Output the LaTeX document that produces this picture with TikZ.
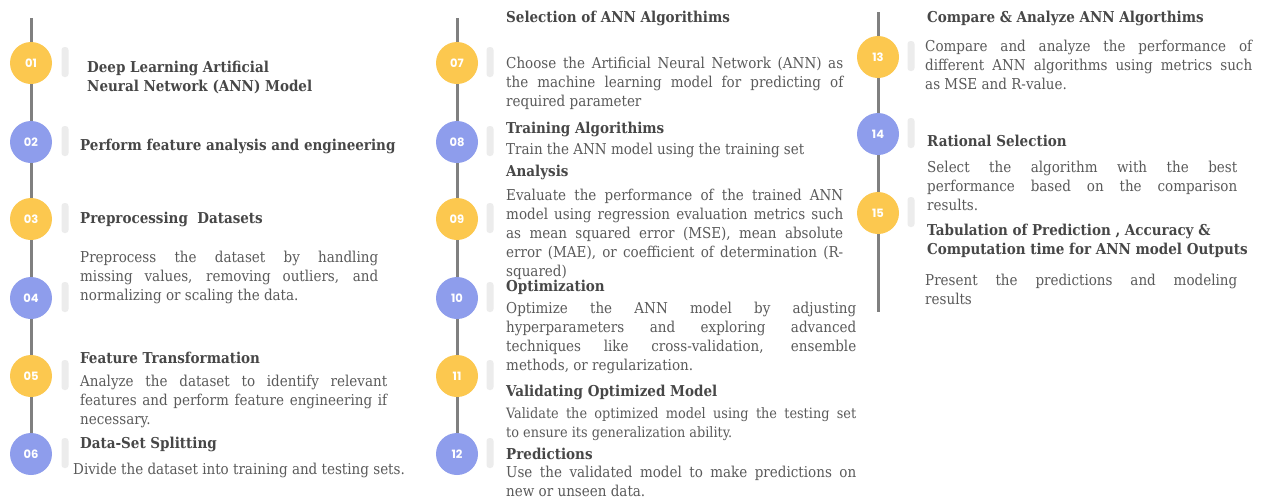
\documentclass[tikz,border=0pt]{standalone}
\usepackage{fontspec}
\setmainfont{DejaVu Serif Condensed}
\newfontfamily\numfont{Poppins}
\hyphenpenalty=10000
\definecolor{cyel}{HTML}{FCC84F}
\definecolor{cblu}{HTML}{8E9DEC}
\definecolor{cline}{HTML}{808080}
\definecolor{cpill}{HTML}{ECECEC}
\definecolor{ctxt}{HTML}{5A5A5A}
\definecolor{chead}{HTML}{474747}
\tikzset{
  stepnum/.style={circle,minimum size=42pt,inner sep=0pt,text=white,font=\numfont\bfseries\fontsize{11.5}{12}\selectfont},
  yel/.style={stepnum,fill=cyel},
  blu/.style={stepnum,fill=cblu},
  pill/.style={rounded corners=3pt,fill=cpill,minimum width=7pt,minimum height=30pt,inner sep=0pt},
  head/.style={anchor=west,inner sep=0pt,text=chead,font=\bfseries\fontsize{15}{19}\selectfont},
  headpar/.style={anchor=north west,inner sep=0pt,text=chead,align=left,font=\bfseries\fontsize{15}{19}\selectfont},
  body/.style={anchor=north west,inner sep=0pt,yshift=-2pt,text=ctxt,align=justify,font=\fontsize{15}{19}\selectfont},
  bline/.style={anchor=west,inner sep=0pt,text=ctxt,font=\fontsize{15}{19}\selectfont},
  spine/.style={draw=cline,line width=3pt}
}
\begin{document}
\begin{tikzpicture}[x=1pt,y=-1pt]
\useasboundingbox[fill=white] (0,0) rectangle (1263,499);
% spine ends
\coordinate (t1) at (31,18);
\coordinate (t2) at (457,18);
\coordinate (t3) at (878,12);
\coordinate (e3) at (878,312);
% column 1 circles
\node[yel] (c01) at (31,63) {01};
\node[blu] (c02) at (31,142) {02};
\node[yel] (c03) at (31,219) {03};
\node[blu] (c04) at (31,298) {04};
\node[yel] (c05) at (31,376) {05};
\node[blu] (c06) at (31,454) {06};
% column 2 circles
\node[yel] (c07) at (457,63) {07};
\node[blu] (c08) at (457,142) {08};
\node[yel] (c09) at (457,219) {09};
\node[blu] (c10) at (457,298) {10};
\node[yel] (c11) at (457,376) {11};
\node[blu] (c12) at (457,454) {12};
% column 3 circles
\node[yel] (c13) at (878,57) {13};
\node[blu] (c14) at (878,134) {14};
\node[yel] (c15) at (878,213) {15};
% spines
\draw[spine] (t1) -- (c01.north);
\draw[spine] (c01) -- (c02) (c02) -- (c03) (c03) -- (c04) (c04) -- (c05) (c05) -- (c06);
\draw[spine] (t2) -- (c07.north);
\draw[spine] (c07) -- (c08) (c08) -- (c09) (c09) -- (c10) (c10) -- (c11) (c11) -- (c12);
\draw[spine] (t3) -- (c13.north);
\draw[spine] (c13) -- (c14) (c14) -- (c15) (c15.south) -- (e3);
% pills
\foreach \n/\x/\y in {p01/65/62,p02/65/141,p03/65/218,p04/65/297,p05/65/375,p06/65/453,
  p07/490/62,p08/490/141,p09/490/218,p10/490/297,p11/490/375,p12/490/453,
  p13/911/56,p14/911/133,p15/911/212}
  \node[pill] (\n) at (\x,\y) {};
% column 1 text
\node[headpar] (h01) at (87,59) {\strut Deep Learning Artificial\\Neural Network (ANN) Model};
\node[head] (h02) at (80,146) {Perform feature analysis and engineering};
\node[head] (h03) at (80,219) {Preprocessing\ \ Datasets};
\node[body,text width=298pt] (b03) at (80,247) {\strut Preprocess the dataset by handling\linebreak missing values, removing outliers, and\linebreak normalizing or scaling the data.};
\node[head] (h05) at (80,358) {Feature Transformation};
\node[body,text width=307pt] (b05) at (80,371) {\strut Analyze the dataset to identify relevant\linebreak features and perform feature engineering if\linebreak necessary.};
\node[head] (h06) at (80,444) {Data-Set Splitting};
\node[bline] (b06) at (73,470) {Divide the dataset into training and testing sets.};
% column 2 text
\node[head] (h07) at (506,18) {Selection of ANN Algorithims};
\node[body,text width=337pt] (b07) at (506,53) {\strut Choose the Artificial Neural Network (ANN) as\linebreak the machine learning model for predicting of\linebreak required parameter};
\node[head] (h08) at (506,129) {Training Algorithims};
\node[bline] (b08) at (506,150) {Train the ANN model using the training set};
\node[head] (h09) at (506,172) {Analysis};
\node[body,text width=337pt] (b09) at (506,185) {\strut Evaluate the performance of the trained ANN\linebreak model using regression evaluation metrics such\linebreak as mean squared error (MSE), mean absolute\linebreak error (MAE), or coefficient of determination (R-\linebreak squared)};
\node[head] (h10) at (506,287) {Optimization};
\node[body,text width=350pt] (b10) at (506,298) {\strut Optimize the ANN model by adjusting\linebreak hyperparameters and exploring advanced\linebreak techniques like cross-validation, ensemble\linebreak methods, or regularization.};
\node[head] (h11) at (506,392) {Validating Optimized Model};
\node[body,text width=350pt,font=\fontsize{14.3}{19}\selectfont] (b11) at (506,403) {\strut Validate the optimized model using the testing set\linebreak to ensure its generalization ability.};
\node[head] (h12) at (506,454) {Predictions};
\node[body,text width=350pt] (b12) at (506,462) {\strut Use the validated model to make predictions on\linebreak new or unseen data.};
% column 3 text
\node[head] (h13) at (927,18) {Compare \& Analyze ANN Algorthims};
\node[body,text width=327pt] (b13) at (925,36) {\strut Compare and analyze the performance of\linebreak different ANN algorithms using metrics such\linebreak as MSE and R-value.};
\node[head] (h14) at (927,141) {Rational Selection};
\node[body,text width=310pt] (b14) at (927,157) {\strut Select the algorithm with the best\linebreak performance based on the comparison\linebreak results.};
\node[headpar] (h15) at (927,222) {\strut Tabulation of Prediction , Accuracy \&\\Computation time for ANN model Outputs};
\node[body,text width=312pt] (b15) at (925,270) {\strut Present the predictions and modeling\linebreak results};
\end{tikzpicture}
\end{document}
